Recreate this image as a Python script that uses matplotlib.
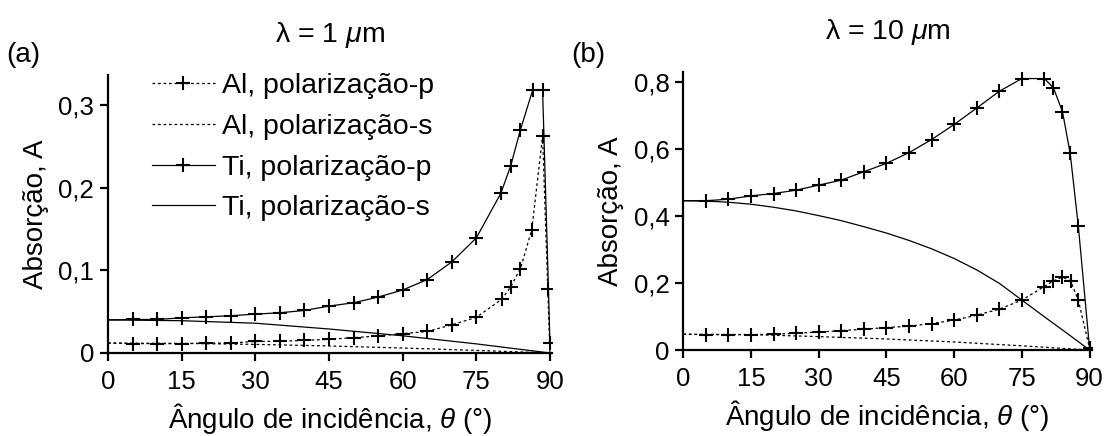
import matplotlib as mpl
mpl.use('Agg')
import matplotlib.pyplot as plt

# ---------------- data ----------------
# (a) lambda = 1 um
ang_al_p_1 = [0, 5, 10, 15, 20, 25, 30, 35, 40, 45, 50, 55, 60, 65, 70, 75,
              80.2, 82, 84, 86.3, 88.5, 90]
al_p_1 = [0.012, 0.0113, 0.0113, 0.0113, 0.012, 0.012, 0.014, 0.014, 0.0153,
          0.0165, 0.0185, 0.0206, 0.0234, 0.026, 0.034, 0.043,
          0.065, 0.080, 0.102, 0.149, 0.262, 0.0]
ang_ti_p_1 = [0, 5, 10, 15, 20, 25, 30, 35, 40, 45, 50, 55, 60, 65, 70, 75,
              80, 82, 84, 86.5, 88.5, 89.7, 90]
ti_p_1 = [0.040, 0.0405, 0.0405, 0.0425, 0.0437, 0.045, 0.047, 0.0486, 0.0514,
          0.0567, 0.0607, 0.0676, 0.0761, 0.0887, 0.110, 0.139,
          0.193, 0.226, 0.270, 0.318, 0.318, 0.077, 0.012]
ang_s_1 = [0, 15, 30, 45, 60, 75, 90]
al_s_1 = [0.012, 0.0116, 0.0104, 0.0085, 0.006, 0.0031, 0.0]
ti_s_1 = [0.040, 0.0390, 0.0360, 0.0290, 0.0208, 0.011, 0.0]

# (b) lambda = 10 um
ang_al_p_10 = [0, 5, 10, 15, 20, 25, 30, 35, 40, 45, 50, 55, 60, 65, 70, 75,
               79.8, 81.8, 84, 85.8, 87.5, 90]
al_p_10 = [0.047, 0.046, 0.046, 0.046, 0.047, 0.050, 0.0535, 0.058, 0.062,
           0.067, 0.071, 0.079, 0.089, 0.104, 0.122, 0.149,
           0.188, 0.205, 0.218, 0.206, 0.149, 0.005]
ang_ti_p_10 = [0, 5, 10, 15, 20, 25, 30, 35, 40, 45, 50, 55, 60, 65, 70, 75,
               80, 82, 84, 85.7, 87.5, 90]
ti_p_10 = [0.4455, 0.4455, 0.450, 0.460, 0.467, 0.477, 0.492, 0.507, 0.532,
           0.557, 0.589, 0.628, 0.673, 0.722, 0.772, 0.810,
           0.810, 0.782, 0.711, 0.587, 0.371, 0.005]
ang_al_s_10 = [0, 15, 30, 45, 60, 75, 90]
al_s_10 = [0.047, 0.046, 0.040, 0.033, 0.024, 0.0125, 0.0]
ang_ti_s_10 = [0, 5, 10, 15, 20, 25, 30, 35, 40, 45, 50, 55, 60, 65, 70, 75,
               80, 85, 90]
ti_s_10 = [0.4455, 0.4445, 0.441, 0.435, 0.426, 0.415, 0.401, 0.386, 0.368,
           0.349, 0.327, 0.302, 0.273, 0.239, 0.199, 0.149, 0.099, 0.050, 0.0]

x_ticks = [0, 15, 30, 45, 60, 75, 90]
y_ticks_1 = [0, 0.1, 0.2, 0.3]
y_labels_1 = ['0', '0,1', '0,2', '0,3']
y_ticks_10 = [0, 0.2, 0.4, 0.6, 0.8]
y_labels_10 = ['0', '0,2', '0,4', '0,6', '0,8']

labels = ['Al, polarização-p', 'Al, polarização-s',
          'Ti, polarização-p', 'Ti, polarização-s']

# ---------------- style ----------------
plt.rcParams['font.family'] = ['Liberation Sans', 'DejaVu Sans']
plt.rcParams['mathtext.fontset'] = 'custom'
plt.rcParams['mathtext.rm'] = 'Liberation Sans'
plt.rcParams['mathtext.it'] = 'Liberation Sans:italic'
plt.rcParams['font.size'] = 18

dot = (0, (2.2, 2.2))
lw = 0.9
mk = dict(marker='+', markersize=9.5, markeredgewidth=1.5, color='black')

fig = plt.figure(figsize=(11.07, 4.36), dpi=100)
ax1 = fig.add_axes([0.0976, 0.1904, 0.4014, 0.6376])
ax2 = fig.add_axes([0.6173, 0.1972, 0.3690, 0.6380])


def style(ax, yticks, ylabels, ymax, lam):
    ax.set_xlim(0, 90.5)
    ax.set_ylim(0, ymax)
    ax.set_xticks(x_ticks)
    ax.set_yticks(yticks)
    ax.set_yticklabels(ylabels)
    for s in ['top', 'right']:
        ax.spines[s].set_visible(False)
    for s in ['left', 'bottom']:
        ax.spines[s].set_linewidth(1.6)
    ax.tick_params(direction='out', length=6, width=1.6, labelsize=18.5)
    ax.tick_params(axis='x', pad=6)
    ax.tick_params(axis='y', pad=4)
    ax.set_xlabel(r'Ângulo de incidência, $\theta$ (°)', labelpad=5, fontsize=20)
    ax.set_ylabel('Absorção, A', labelpad=7, fontsize=20)
    ax.set_title('λ = ' + lam + r' $\mu$m', pad=24, fontsize=20.5)


# panel (a)
ax1.plot(ang_al_p_1, al_p_1, linestyle=dot, lw=lw, markevery=slice(1, -1),
         label=labels[0], **mk)
ax1.plot(ang_s_1, al_s_1, linestyle=dot, lw=lw, color='black', label=labels[1])
ax1.plot(ang_ti_p_1, ti_p_1, linestyle='-', lw=lw, markevery=slice(1, None),
         label=labels[2], **mk)
ax1.plot(ang_s_1, ti_s_1, linestyle='-', lw=lw, color='black', label=labels[3])
style(ax1, y_ticks_1, y_labels_1, 0.336, '1')

leg = ax1.legend(loc='upper left', bbox_to_anchor=(0.099, 1.007), frameon=False,
                 handlelength=2.2, handletextpad=0.25, labelspacing=0.52,
                 borderpad=0, borderaxespad=0, fontsize=20.5)

# panel (b)
ax2.plot(ang_al_p_10, al_p_10, linestyle=dot, lw=lw, markevery=slice(1, None), **mk)
ax2.plot(ang_al_s_10, al_s_10, linestyle=dot, lw=lw, color='black')
ax2.plot(ang_ti_p_10, ti_p_10, linestyle='-', lw=lw, markevery=slice(1, None), **mk)
ax2.plot(ang_ti_s_10, ti_s_10, linestyle='-', lw=lw, color='black')
style(ax2, y_ticks_10, y_labels_10, 0.83, '10')

fig.text(0.006, 0.874, '(a)', fontsize=20, va='center', ha='left')
fig.text(0.516, 0.874, '(b)', fontsize=20, va='center', ha='left')

fig.savefig('out.png', dpi=100)
